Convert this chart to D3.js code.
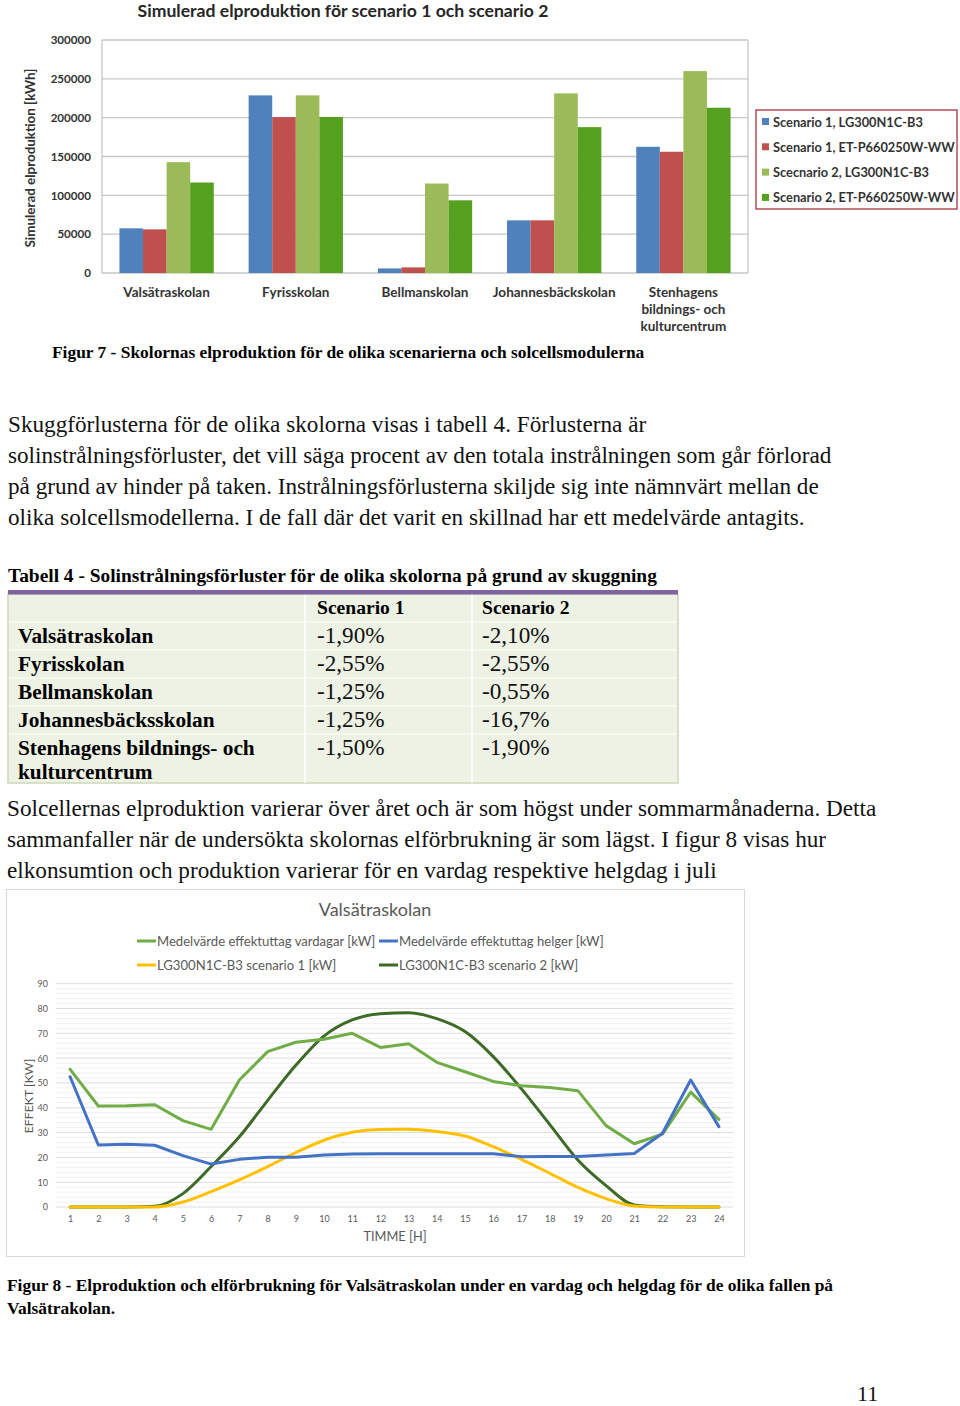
<!DOCTYPE html>
<html><head><meta charset="utf-8">
<script src="https://cdn.jsdelivr.net/npm/d3@7"></script>
<style>body{margin:0;background:#fff}svg{display:block}</style>
</head><body><svg id="page" width="960" height="1406"></svg>
<script>
// ---------- Data: Figur 7 ----------
const schools = ["Valsätraskolan","Fyrisskolan","Bellmanskolan","Johannesbäckskolan","Stenhagens bildnings- och kulturcentrum"];
const schoolLabelLines = [["Valsätraskolan"],["Fyrisskolan"],["Bellmanskolan"],["Johannesbäckskolan"],["Stenhagens","bildnings- och","kulturcentrum"]];
const barSeries = ["Scenario 1, LG300N1C-B3","Scenario 1, ET-P660250W-WW","Scecnario 2, LG300N1C-B3","Scenario 2, ET-P660250W-WW"];
const s1LG = [57500,228700,5900,67800,162500];
const s1ET = [56200,200700,7200,67800,156100];
const s2LG = [142700,228700,115200,231300,260000];
const s2ET = [116500,200900,93600,187800,212800];
const barTicks = [0,50000,100000,150000,200000,250000,300000];

// ---------- Data: Tabell 4 ----------
const tableHeader = ["", "Scenario 1", "Scenario 2"];
const tableSchools = [["Valsätraskolan"],["Fyrisskolan"],["Bellmanskolan"],["Johannesbäcksskolan"],["Stenhagens bildnings- och","kulturcentrum"]];
const lossS1 = ["-1,90%","-2,55%","-1,25%","-1,25%","-1,50%"];
const lossS2 = ["-2,10%","-2,55%","-0,55%","-16,7%","-1,90%"];

// ---------- Data: Figur 8 ----------
const hours = [1,2,3,4,5,6,7,8,9,10,11,12,13,14,15,16,17,18,19,20,21,22,23,24];
const vardagar = [55.5,40.7,40.8,41.2,34.8,31.3,51.2,62.6,66.4,67.6,70.0,64.3,65.8,58.3,54.5,50.6,48.9,48.2,46.9,32.8,25.5,29.4,46.3,35.3];
const helger  = [52.5,25.0,25.3,24.9,20.7,17.3,19.2,20.1,20.1,21.0,21.4,21.5,21.5,21.5,21.5,21.5,20.3,20.4,20.4,21.0,21.6,29.7,51.2,32.4];
const lgS1    = [0,0,0,0,2.0,6.2,10.9,16.3,21.9,26.9,30.1,31.2,31.3,30.4,28.6,24.3,19.2,13.6,7.9,3.4,0.4,0,0,0];
const lgS2    = [0,0,0,0.3,5.4,16.3,28.3,42.9,57.1,68.9,75.4,77.9,78.3,75.9,70.7,60.6,47.6,33.3,18.9,8.6,0.8,0.1,0,0];
const lineTicks = [0,10,20,30,40,50,60,70,80,90];
const lineNames = ["Medelvärde effektuttag vardagar [kW]","Medelvärde effektuttag helger [kW]","LG300N1C-B3 scenario 1 [kW]","LG300N1C-B3 scenario 2 [kW]"];

// ---------- Text ----------
const para1 = ["Skuggförlusterna för de olika skolorna visas i tabell 4. Förlusterna är",
"solinstrålningsförluster, det vill säga procent av den totala instrålningen som går förlorad",
"på grund av hinder på taken. Instrålningsförlusterna skiljde sig inte nämnvärt mellan de",
"olika solcellsmodellerna. I de fall där det varit en skillnad har ett medelvärde antagits."];
const para2 = ["Solcellernas elproduktion varierar över året och är som högst under sommarmånaderna. Detta",
"sammanfaller när de undersökta skolornas elförbrukning är som lägst. I figur 8 visas hur",
"elkonsumtion och produktion varierar för en vardag respektive helgdag i juli"];

const svg = d3.select("#page");
const serif = "'Liberation Serif','Times New Roman',serif";
const cal = "Lato,'Open Sans',sans-serif";

// ================= Figur 7: bar chart =================
(function(){
  const g = svg.append("g");
  const x0 = d3.scaleBand().domain(schools).range([102,748]).paddingInner(0.27).paddingOuter(0.135);
  const x1 = d3.scaleBand().domain(barSeries).range([0, x0.bandwidth()]);
  const y = d3.scaleLinear().domain([0,300000]).range([273,40]);
  const colors = d3.scaleOrdinal().domain(barSeries).range(["#4f81bd","#c0504d","#9bbb59","#56a020"]);
  const vals = [s1LG,s1ET,s2LG,s2ET];

  g.append("text").attr("x",343).attr("y",17).attr("text-anchor","middle")
    .attr("font-family",cal).attr("font-weight","bold").attr("font-size",17.6).attr("fill","#262626")
    .text("Simulerad elproduktion för scenario 1 och scenario 2");

  g.append("g").selectAll("line").data(barTicks).join("line")
    .attr("x1",102).attr("x2",748).attr("y1",d=>y(d)).attr("y2",d=>y(d))
    .attr("stroke","#c6c6c6").attr("stroke-width",1.3);
  g.append("line").attr("x1",748).attr("x2",748).attr("y1",40).attr("y2",273).attr("stroke","#c6c6c6").attr("stroke-width",1.3);
  g.append("line").attr("x1",102).attr("x2",102).attr("y1",40).attr("y2",273).attr("stroke","#c6c6c6").attr("stroke-width",1.3);

  const ax = d3.axisLeft(y).tickValues(barTicks).tickSize(0).tickPadding(11).tickFormat(d3.format("d"));
  const axg = g.append("g").attr("transform","translate(102,0)").call(ax);
  axg.select(".domain").remove();
  axg.selectAll("text").attr("font-family",cal).attr("font-weight","bold").attr("font-size",11.6).attr("fill","#333");

  schools.forEach((s,i)=>{
    const gg = g.append("g").attr("transform",`translate(${x0(s)},0)`);
    barSeries.forEach((ser,j)=>{
      gg.append("rect").attr("x",x1(ser)).attr("width",x1.bandwidth())
        .attr("y",y(vals[j][i])).attr("height",y(0)-y(vals[j][i])).attr("fill",colors(ser));
    });
    const t = g.append("text").attr("text-anchor","middle").attr("font-family",cal)
      .attr("font-weight","bold").attr("font-size",13.5).attr("fill","#333");
    schoolLabelLines[i].forEach((ln,k)=>{
      t.append("tspan").attr("x",x0(s)+x0.bandwidth()/2).attr("y",297+k*17).text(ln);
    });
  });

  g.append("text").attr("transform","translate(35,158) rotate(-90)").attr("text-anchor","middle")
    .attr("font-family",cal).attr("font-weight","bold").attr("font-size",13.4).attr("fill","#333")
    .text("Simulerad elproduktion [kWh]");

  const lg = g.append("g");
  lg.append("rect").attr("x",756).attr("y",110).attr("width",201).attr("height",99)
    .attr("fill","#fff").attr("stroke","#a8323c").attr("stroke-width",1.3);
  barSeries.forEach((ser,j)=>{
    const yy = 122 + j*25.3;
    lg.append("rect").attr("x",762).attr("y",yy-4).attr("width",7).attr("height",7).attr("fill",colors(ser));
    lg.append("text").attr("x",773).attr("y",yy+4.5).attr("font-family",cal).attr("font-weight","bold")
      .attr("font-size",12.8).attr("fill","#333").text(ser);
  });
})();

// ================= Captions and paragraphs =================
svg.append("text").attr("x",52).attr("y",358).attr("font-family",serif).attr("font-weight","bold")
  .attr("font-size",17.4).attr("fill","#000")
  .text("Figur 7 - Skolornas elproduktion för de olika scenarierna och solcellsmodulerna");

para1.forEach((ln,i)=>{
  svg.append("text").attr("x",8).attr("y",432+i*31).attr("font-family",serif).attr("font-size",23.2)
    .attr("fill","#111").text(ln);
});

svg.append("text").attr("x",8).attr("y",582).attr("font-family",serif).attr("font-weight","bold")
  .attr("font-size",19.4).attr("fill","#000")
  .text("Tabell 4 - Solinstrålningsförluster för de olika skolorna på grund av skuggning");

// ================= Table =================
(function(){
  const g = svg.append("g");
  const left = 8, right = 678, top = 594, bottom = 783;
  const colX = [8,305,472,678];
  const rowY = [594,622,650,678,706,734,783];
  g.append("rect").attr("x",left).attr("y",top).attr("width",right-left).attr("height",bottom-top)
    .attr("fill","#edf2e5").attr("stroke","#cbd9bb").attr("stroke-width",1.5);
  colX.slice(1,3).forEach(cx=>g.append("line").attr("x1",cx).attr("x2",cx).attr("y1",top).attr("y2",bottom)
    .attr("stroke","#ffffff").attr("stroke-width",1.5));
  rowY.slice(1,6).forEach(ry=>g.append("line").attr("x1",left+1).attr("x2",right-1).attr("y1",ry).attr("y2",ry)
    .attr("stroke","#ffffff").attr("stroke-width",1.2));
  g.append("rect").attr("x",left).attr("y",590).attr("width",right-left).attr("height",4.5).attr("fill","#8064a2");

  g.append("text").attr("x",317).attr("y",614).attr("font-family",serif).attr("font-weight","bold")
    .attr("font-size",19.6).text(tableHeader[1]);
  g.append("text").attr("x",482).attr("y",614).attr("font-family",serif).attr("font-weight","bold")
    .attr("font-size",19.6).text(tableHeader[2]);
  tableSchools.forEach((lines,i)=>{
    const by = 643 + i*28;
    lines.forEach((ln,k)=>{
      g.append("text").attr("x",18).attr("y",by+k*24).attr("font-family",serif).attr("font-weight","bold")
        .attr("font-size",21.3).attr("fill","#000").text(ln);
    });
    g.append("text").attr("x",317).attr("y",by).attr("font-family",serif).attr("font-size",23.2).attr("fill","#111").text(lossS1[i]);
    g.append("text").attr("x",482).attr("y",by).attr("font-family",serif).attr("font-size",23.2).attr("fill","#111").text(lossS2[i]);
  });
})();

para2.forEach((ln,i)=>{
  svg.append("text").attr("x",7).attr("y",816+i*31).attr("font-family",serif).attr("font-size",23.2)
    .attr("fill","#111").text(ln);
});

// ================= Figur 8: line chart =================
(function(){
  const g = svg.append("g");
  g.append("rect").attr("x",6.5).attr("y",889.5).attr("width",738).attr("height",367)
    .attr("fill","#fff").attr("stroke","#d9d9d9").attr("stroke-width",1);
  const x = d3.scalePoint().domain(hours).range([56,733]).padding(0.5);
  const y = d3.scaleLinear().domain([0,90]).range([1207,983.7]);
  const gray = "#595959";

  g.append("text").attr("x",375).attr("y",916).attr("text-anchor","middle").attr("font-family",cal)
    .attr("font-size",18).attr("fill",gray).text("Valsätraskolan");

  const minor = d3.range(0,91,2).filter(v=>v%10!==0);
  g.append("g").selectAll("line").data(minor).join("line")
    .attr("x1",56).attr("x2",733).attr("y1",d=>y(d)).attr("y2",d=>y(d))
    .attr("stroke","#f0f0f0").attr("stroke-width",1);
  g.append("g").selectAll("line").data(lineTicks).join("line")
    .attr("x1",56).attr("x2",733).attr("y1",d=>y(d)).attr("y2",d=>y(d))
    .attr("stroke","#dcdcdc").attr("stroke-width",1);

  const ay = d3.axisLeft(y).tickValues(lineTicks).tickSize(0).tickPadding(8);
  const ayg = g.append("g").attr("transform","translate(56,0)").call(ay);
  ayg.select(".domain").remove();
  ayg.selectAll("text").attr("font-family",cal).attr("font-size",9).attr("fill",gray);

  const axx = d3.axisBottom(x).tickSize(0).tickPadding(9);
  const axg = g.append("g").attr("transform","translate(0,1207)").call(axx);
  axg.select(".domain").remove();
  axg.selectAll("text").attr("font-family",cal).attr("font-size",9).attr("fill",gray);

  g.append("text").attr("x",395).attr("y",1241).attr("text-anchor","middle").attr("font-family",cal)
    .attr("font-size",12.8).attr("fill",gray).text("TIMME [H]");
  g.append("text").attr("transform","translate(33,1096) rotate(-90)").attr("text-anchor","middle")
    .attr("font-family",cal).attr("font-size",12.3).attr("fill",gray).text("EFFEKT [KW]");

  const series = [
    {name:lineNames[0], vals:vardagar, color:"#70ad47", curve:d3.curveLinear},
    {name:lineNames[1], vals:helger, color:"#4472c4", curve:d3.curveLinear},
    {name:lineNames[2], vals:lgS1, color:"#ffc000", curve:d3.curveMonotoneX},
    {name:lineNames[3], vals:lgS2, color:"#3d6b26", curve:d3.curveMonotoneX}
  ];
  const drawOrder = [3,2,0,1];
  drawOrder.forEach(k=>{
    const s = series[k];
    const line = d3.line().x((d,i)=>x(hours[i])).y(d=>y(d)).curve(s.curve);
    g.append("path").attr("d",line(s.vals)).attr("fill","none").attr("stroke",s.color)
      .attr("stroke-width",3).attr("stroke-linejoin","round").attr("stroke-linecap","round");
  });

  const legPos = [[137,941],[379,941],[137,965],[379,965]];
  series.forEach((s,k)=>{
    const [lx,ly] = legPos[k];
    g.append("line").attr("x1",lx).attr("x2",lx+19).attr("y1",ly).attr("y2",ly)
      .attr("stroke",s.color).attr("stroke-width",3);
    g.append("text").attr("x",lx+20).attr("y",ly+4.5).attr("font-family",cal).attr("font-size",13.1)
      .attr("fill",gray).text(s.name);
  });
})();

// ================= Figur 8 caption & page number =================
svg.append("text").attr("x",7).attr("y",1291).attr("font-family",serif).attr("font-weight","bold")
  .attr("font-size",17.4).attr("fill","#000")
  .text("Figur 8 - Elproduktion och elförbrukning för Valsätraskolan under en vardag och helgdag för de olika fallen på");
svg.append("text").attr("x",7).attr("y",1314).attr("font-family",serif).attr("font-weight","bold")
  .attr("font-size",17.4).attr("fill","#000").text("Valsätrakolan.");
svg.append("text").attr("x",857).attr("y",1401).attr("font-family",serif)
  .attr("font-size",22).attr("fill","#111").text("11");
</script></body></html>
